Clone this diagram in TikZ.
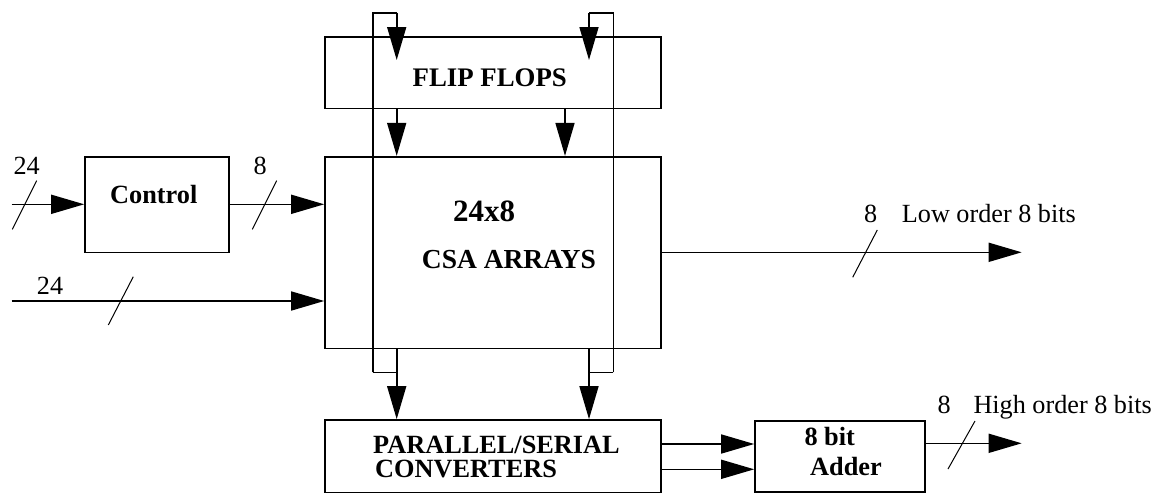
\documentclass[tikz,border=0pt]{standalone}
\usepackage{fontspec}
\setmainfont{Liberation Serif}
\usetikzlibrary{arrows.meta}
\begin{document}
\begin{tikzpicture}[x=1pt,y=-1pt,
  box/.style={draw,line width=1.6pt,rectangle,inner sep=0pt},
  wire/.style={line width=1.6pt},
  arr/.style={line width=1.6pt,-{Triangle[length=33pt,width=19pt]}},
  slash/.style={line width=1pt},
  lbl/.style={inner sep=0pt,anchor=base west,font=\fontsize{26.2}{30}\selectfont},
  blbl/.style={inner sep=0pt,anchor=base west,font=\fontsize{26.3}{30}\selectfont\bfseries}]
\useasboundingbox (0,0) rectangle (1157,493);
% boxes
\node[box,minimum width=335.7pt,minimum height=71.6pt] (ff) at (492.85,72.5) {};
\node[box,minimum width=335.7pt,minimum height=191.6pt] (csa) at (492.85,252.5) {};
\node[box,minimum width=144pt,minimum height=95.6pt] (ctrl) at (157,204.5) {};
\node[box,minimum width=335.7pt,minimum height=72.7pt] (ps) at (492.85,456.3) {};
\node[box,minimum width=170pt,minimum height=71pt] (add) at (840,456.2) {};
% texts
\node[blbl,font=\fontsize{26.8}{30}\selectfont\bfseries] (tff) at (412.5,86) {FLIP FLOPS};
\node[blbl] (tctrl) at (110,203.3) {Control};
\node[inner sep=0pt,anchor=base west,font=\fontsize{31}{36}\selectfont\bfseries] (t248) at (453,221.7) {24x8};
\node[inner sep=0pt,anchor=base west,font=\fontsize{27.5}{32}\selectfont\bfseries] (tcsa) at (421.7,268.3) {CSA ARRAYS};
\node[blbl,align=left,font=\fontsize{26.3}{24}\selectfont\bfseries] (tps) at (373,477.5) {PARALLEL/SERIAL\\\hspace*{2pt}CONVERTERS};
\node[blbl] (tadd1) at (804.3,445) {8 bit};
\node[blbl] (tadd2) at (810,475) {Adder};
\node[lbl] (n24a) at (13.3,174.3) {24};
\node[lbl] (n8a) at (253.3,174.3) {8};
\node[lbl] (n24b) at (36.7,294) {24};
\node[lbl] (n8lo) at (864,222.3) {8};
\node[lbl] (tlo) at (901.7,222.3) {Low order 8 bits};
\node[lbl] (n8hi) at (937.3,413.3) {8};
\node[lbl] (thi) at (973.3,413.3) {High order 8 bits};
% column coordinates
\coordinate (xl) at (372.7,0);
\coordinate (xa) at (396.7,0);
\coordinate (xb) at (565,0);
\coordinate (xc) at (589,0);
\coordinate (xr) at (613.3,0);
\coordinate (ytop) at (0,12.7);
\coordinate (ybot) at (0,372.3);
\coordinate (yfft) at (0,60);
% bypass loops
\draw[wire] (xl|-ybot) -- (xl|-ytop) -- (xa|-ytop);
\draw[arr] (xa|-ytop) -- (xa|-yfft);
\draw[wire] (xr|-ybot) -- (xr|-ytop) -- (xc|-ytop);
\draw[arr] (xc|-ytop) -- (xc|-yfft);
\draw[wire] (xl|-ybot) -- (xa|-ybot);
\draw[wire] (xr|-ybot) -- (xc|-ybot);
% ff -> csa
\draw[arr] (ff.south-|xa) -- (csa.north-|xa);
\draw[arr] (ff.south-|xb) -- (csa.north-|xb);
% csa -> ps
\draw[arr] (csa.south-|xa) -- (ps.north-|xa);
\draw[arr] (csa.south-|xc) -- (ps.north-|xc);
% inputs
\coordinate (in1) at (11.7,204.3);
\coordinate (in2) at (11.7,301);
\draw[arr] (in1) -- (ctrl.west|-in1);
\draw[arr] (ctrl.east|-in1) -- (csa.west|-in1);
\draw[arr] (in2) -- (csa.west|-in2);
% outputs
\coordinate (lo) at (1021.7,252.3);
\draw[arr] (csa.east|-lo) -- (lo);
\coordinate (p1) at (0,444);
\coordinate (p2) at (0,469.3);
\draw[arr] (ps.east|-p1) -- (add.west|-p1);
\draw[arr] (ps.east|-p2) -- (add.west|-p2);
\coordinate (hi) at (1021.7,443.3);
\draw[arr] (add.east|-hi) -- (hi);
% bus slashes
\draw[slash] (12.3,229.3) -- (36.7,180.7);
\draw[slash] (252.3,229.3) -- (276.7,180.7);
\draw[slash] (108.3,325) -- (133.3,276.7);
\draw[slash] (852.7,277.3) -- (877.3,230);
\draw[slash] (948,469) -- (975,421);
\end{tikzpicture}
\end{document}
